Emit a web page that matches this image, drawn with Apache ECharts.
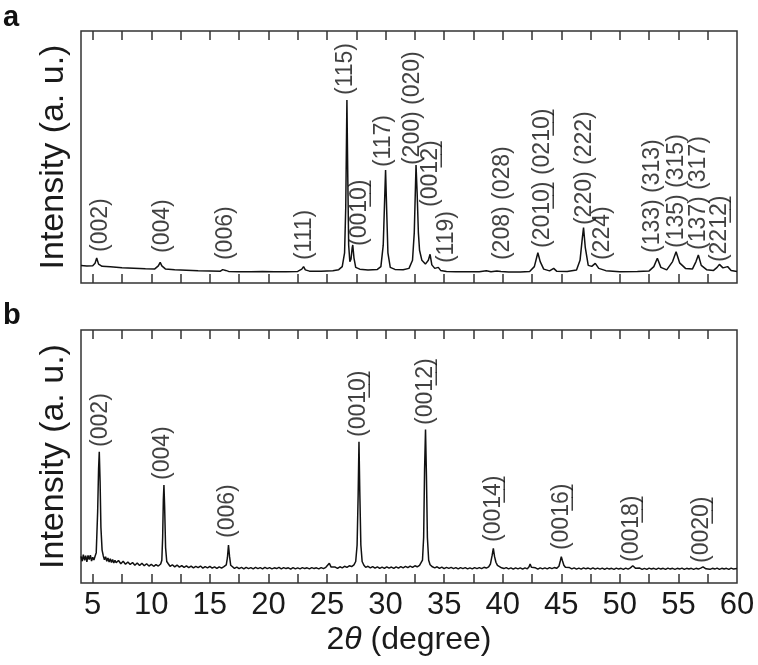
<!DOCTYPE html>
<html>
<head>
<meta charset="utf-8">
<script src="https://cdn.jsdelivr.net/npm/echarts@6/dist/echarts.min.js"></script>
<style>html,body{margin:0;padding:0;background:#fff}#c{width:758px;height:665px}</style>
</head>
<body>
<div id="c"></div>
<script>
// ---------- data ----------
const xMin = 4, xMax = 60;
const xTickLabels = [5, 10, 15, 20, 25, 30, 35, 40, 45, 50, 55, 60];
const xMinorTicks = [5, 7.5, 10, 12.5, 15, 17.5, 20, 22.5, 25, 27.5, 30, 32.5, 35, 37.5, 40, 42.5, 45, 47.5, 50, 52.5, 55, 57.5];

// panel a : powder pattern [2theta, intensity]
const patternA = [
 [4.0,6.9],[4.5,6.7],[5.0,6.8],[5.2,7.8],[5.34,9.9],[5.5,7.5],[5.8,6.6],[6.5,6.4],[7.5,6.1],[8.5,5.9],[9.5,5.7],
 [10.3,5.6],[10.6,6.8],[10.76,8.2],[10.9,6.8],[11.2,5.6],[12,5.3],[13,5.1],[14,4.9],[15,4.8],[15.9,4.7],
 [16.1,5.3],[16.22,5.8],[16.35,5.0],[16.6,4.6],[17.5,4.5],[18.5,4.5],[19.5,4.6],[20.5,4.5],[21.5,4.5],[22.5,4.6],
 [22.85,5.5],[23.0,6.5],[23.15,5.2],[23.5,4.7],[24.5,4.7],[25.5,4.9],[26.0,5.3],[26.3,6.5],[26.5,12],[26.6,30],
 [26.7,72.6],[26.78,40],[26.85,15],[26.95,8.5],[27.05,9.5],[27.15,14],[27.2,15.1],[27.3,10],[27.45,6.2],[27.8,5.5],
 [28.5,5.2],[29.3,5.4],[29.6,6.5],[29.8,15],[29.9,30],[30.0,44.8],[30.1,28],[30.2,12],[30.4,6.2],[30.8,5.4],
 [31.5,5.3],[32.0,5.8],[32.3,9],[32.45,20],[32.6,46.8],[32.7,35],[32.8,20],[32.9,13],[33.1,9],[33.4,7.5],
 [33.65,9],[33.8,11.4],[33.95,7.2],[34.2,5.8],[34.5,6.2],[34.7,5.0],[35.2,4.6],[36,4.5],[37,4.5],[38,4.5],
 [38.6,4.9],[39,4.5],[39.5,4.8],[39.66,5.4],[39.85,4.6],[40.5,4.4],[41.5,4.4],[42.3,4.6],[42.7,6.5],[43.0,12],
 [43.2,8.5],[43.5,5.5],[44.0,4.8],[44.35,5.8],[44.6,4.7],[45.5,4.6],[46.3,5.2],[46.6,9],[46.8,18],[46.9,22],
 [47.05,14],[47.3,7],[47.6,6.6],[47.9,7.8],[48.2,5.8],[48.8,4.9],[50,4.5],[51.5,4.6],[52.5,4.8],[52.9,6.5],
 [53.2,9.8],[53.5,6.2],[54.0,5.2],[54.5,8.5],[54.8,12.4],[55.1,8.0],[55.6,5.8],[56.2,5.6],[56.5,8.5],[56.7,11.1],
 [56.95,7.0],[57.4,5.3],[58.0,5.0],[58.3,6.2],[58.5,7.4],[58.8,6.0],[59.2,6.5],[59.5,5.0],[60,4.6]
];

// panel b : oriented film pattern [2theta, intensity]
const patternB = [
 [4.0,10.5],[4.1,8.6],[4.2,11.2],[4.3,9.0],[4.4,10.8],[4.5,8.4],[4.6,10.9],[4.7,9.3],[4.8,11.0],[4.9,8.7],[5.0,10.2],
 [5.1,9.1],[5.2,10.6],[5.3,12],[5.42,28],[5.5,45],[5.56,51.9],[5.63,40],[5.7,22],[5.8,13],[5.9,10.8],[6.0,9.2],
 [6.1,10.4],[6.2,8.6],[6.3,9.9],[6.4,8.3],[6.5,9.6],[6.6,8.1],[6.7,9.3],[6.8,7.9],[6.9,9.0],[7.0,8.0],
 [7.2,8.9],[7.4,7.6],[7.6,8.6],[7.8,7.4],[8.0,8.3],[8.2,7.3],[8.4,8.1],[8.6,7.0],[8.8,7.9],[9.0,6.9],[9.2,7.8],
 [9.4,6.8],[9.6,7.6],[9.8,6.7],[10.0,7.4],[10.2,6.6],[10.4,7.3],[10.6,6.7],[10.8,7.5],[10.9,9],[10.97,18],
 [11.03,33],[11.08,38.7],[11.14,30],[11.22,14],[11.32,8.5],[11.45,7.6],[11.6,6.6],[11.8,7.2],[12.0,6.4],[12.2,7.1],
 [12.4,6.3],[12.6,6.9],[12.8,6.2],[13.0,6.8],[13.2,6.1],[13.4,6.7],[13.6,6.0],[13.8,6.6],[14.0,6.1],[14.2,6.7],
 [14.4,5.9],[14.6,6.5],[14.8,6.0],[15.0,6.6],[15.2,5.9],[15.4,6.4],[15.6,5.8],[15.8,6.4],[16.0,5.9],[16.2,6.5],
 [16.4,7.2],[16.5,10],[16.59,15],[16.68,10.5],[16.78,7.0],[16.9,6.4],[17.1,5.8],[17.3,6.3],[17.5,5.7],[17.7,6.2],
 [17.9,5.6],[18.1,6.2],[18.3,5.7],[18.5,6.1],[18.7,5.6],[18.9,6.2],[19.1,5.7],[19.3,6.1],[19.5,5.6],[19.7,6.2],
 [19.9,5.7],[20.1,6.1],[20.3,5.6],[20.5,6.0],[20.7,5.7],[20.9,6.2],[21.1,5.6],[21.3,6.1],[21.5,5.7],[21.7,6.0],
 [21.9,5.5],[22.1,6.1],[22.3,5.6],[22.5,6.0],[22.7,5.6],[22.9,6.1],[23.1,5.7],[23.3,6.0],[23.5,5.6],[23.7,6.1],
 [23.9,5.7],[24.1,6.0],[24.3,5.6],[24.5,6.1],[24.7,5.7],[24.9,6.2],[25.05,6.4],[25.2,7.8],[25.35,6.3],[25.5,5.9],
 [25.7,6.3],[25.9,5.8],[26.1,6.4],[26.3,6.0],[26.5,6.6],[26.7,6.2],[26.9,6.8],[27.1,6.5],[27.3,7.2],[27.45,8.5],
 [27.57,15],[27.66,35],[27.73,55.8],[27.8,36],[27.89,15],[28.0,8.5],[28.15,7.0],[28.3,6.2],[28.5,6.6],[28.7,6.0],
 [28.9,6.5],[29.1,5.9],[29.3,6.4],[29.5,5.8],[29.7,6.3],[29.9,5.8],[30.1,6.4],[30.3,5.9],[30.5,6.3],[30.7,5.8],
 [30.9,6.4],[31.1,5.9],[31.3,6.5],[31.5,6.0],[31.7,6.6],[31.9,6.1],[32.1,6.7],[32.3,6.2],[32.5,6.8],[32.7,6.4],
 [32.9,7.0],[33.05,7.6],[33.15,9],[33.25,18],[33.33,45],[33.41,60.7],[33.49,42],[33.57,18],[33.68,9],[33.8,7.2],
 [34.0,6.4],[34.2,6.0],[34.4,6.4],[34.6,5.8],[34.8,6.3],[35.0,5.7],[35.2,6.2],[35.4,5.8],[35.6,6.2],[35.8,5.7],
 [36.0,6.1],[36.2,5.6],[36.4,6.1],[36.6,5.7],[36.8,6.1],[37.0,5.6],[37.2,6.0],[37.4,5.6],[37.6,6.1],[37.8,5.7],
 [38.0,6.1],[38.2,5.7],[38.4,6.2],[38.6,5.9],[38.8,6.4],[38.95,7.5],[39.1,11],[39.2,13.7],[39.3,10.5],[39.42,8.2],
 [39.55,7.0],[39.7,6.4],[39.9,6.0],[40.1,5.7],[40.3,6.1],[40.5,5.6],[40.7,6.0],[40.9,5.5],[41.1,6.0],[41.3,5.6],
 [41.5,6.0],[41.7,5.5],[41.9,6.0],[42.1,5.6],[42.25,6.4],[42.34,7.5],[42.45,6.2],[42.6,5.7],[42.8,6.0],[43.0,5.5],
 [43.2,6.0],[43.4,5.6],[43.6,6.0],[43.8,5.6],[44.0,6.1],[44.2,5.7],[44.4,6.1],[44.6,5.8],[44.8,6.6],[44.92,8.8],
 [45.0,10.4],[45.1,8.8],[45.22,7.0],[45.35,6.2],[45.5,5.9],[45.7,6.1],[45.9,5.6],[46.1,6.0],[46.3,5.5],[46.5,5.9],
 [46.7,5.5],[46.9,6.0],[47.1,5.6],[47.3,5.9],[47.5,5.5],[47.7,6.0],[47.9,5.5],[48.1,5.9],[48.3,5.5],[48.5,5.9],
 [48.7,5.4],[48.9,5.9],[49.1,5.5],[49.3,5.8],[49.5,5.4],[49.7,5.9],[49.9,5.5],[50.1,5.8],[50.3,5.4],[50.5,5.9],
 [50.7,5.5],[50.9,6.0],[51.0,6.5],[51.1,6.8],[51.2,6.4],[51.35,5.8],[51.5,5.5],[51.7,5.9],[51.9,5.4],[52.1,5.8],
 [52.3,5.4],[52.5,5.9],[52.7,5.5],[52.9,5.8],[53.1,5.4],[53.3,5.9],[53.5,5.5],[53.7,5.8],[53.9,5.4],[54.1,5.9],
 [54.3,5.5],[54.5,5.8],[54.7,5.4],[54.9,5.8],[55.1,5.5],[55.3,5.9],[55.5,5.4],[55.7,5.8],[55.9,5.5],[56.1,5.8],
 [56.3,5.4],[56.5,5.8],[56.7,5.5],[56.9,5.9],[57.0,6.2],[57.1,6.4],[57.2,6.1],[57.35,5.6],[57.5,5.8],[57.7,5.4],
 [57.9,5.8],[58.1,5.5],[58.3,5.9],[58.5,5.4],[58.7,5.8],[58.9,5.5],[59.1,5.8],[59.3,5.4],[59.5,5.9],[59.7,5.5],[60.0,5.7]
];

// reflection labels (U+0332 = underline of multi-digit index)
const U = '\u0332';
const labelTextA = ['(002)','(004)','(006)','(111)','(115)','(001'+U+'0'+U+')','(117)','(200) (020)',
  '(001'+U+'2'+U+')','(119)','(208) (028)','(201'+U+'0'+U+') (021'+U+'0'+U+')','(220) (222)','(224)',
  '(133) (313)','(135) (315)','(137) (317)','(221'+U+'2'+U+')'];
const labelAngleA = [5.71, 11.0, 16.38, 23.12, 26.62, 27.82, 29.87, 32.34, 33.88, 35.24, 40.02, 43.44, 47.02, 48.56, 52.83, 54.88, 56.76, 58.55];
const labelBaseA  = [12.3, 11.9, 9.1, 9.1, 74.6, 14.7, 46.0, 46.8, 30.2, 7.9, 9.1, 13.9, 23.0, 9.1, 11.9, 13.9, 13.1, 8.3];

const labelTextB = ['(002)','(004)','(006)','(001'+U+'0'+U+')','(001'+U+'2'+U+')','(001'+U+'4'+U+')',
  '(001'+U+'6'+U+')','(001'+U+'8'+U+')','(002'+U+'0'+U+')'];
const labelAngleB = [5.71, 11.0, 16.55, 27.73, 33.45, 39.26, 45.06, 51.04, 57.02];
const labelBaseB  = [53.8, 40.7, 17.8, 57.7, 62.5, 16.2, 13.0, 8.3, 7.9];

const panelLetters = ['a', 'b'];
const yTitle = 'Intensity (a. u.)';

// ---------- chart ----------
const FONT = '"Liberation Sans", Arial, Helvetica, sans-serif';
const INK = '#1a1a1a';
const AX = '#333';

function xAx(gridIndex, position, showLabels) {
  return {
    type: 'value', gridIndex, position, min: xMin, max: xMax,
    axisLine: { show: false },
    splitLine: { show: false },
    axisTick: { show: true, inside: true, length: 9, customValues: xMinorTicks, lineStyle: { color: AX, width: 1.5 } },
    axisLabel: showLabels ? { show: true, customValues: xTickLabels, margin: 7, fontSize: 31, color: INK, fontFamily: FONT } : { show: false },
    name: showLabels ? '2{i|θ} (degree)' : '',
    nameLocation: 'middle', nameGap: 41,
    nameTextStyle: { fontSize: 32, color: INK, fontFamily: FONT,
      rich: { i: { fontStyle: 'italic', fontSize: 32, color: INK, fontFamily: FONT } } }
  };
}
function yAx(gridIndex) {
  return {
    type: 'value', gridIndex, min: 0, max: 100,
    axisLine: { show: false }, axisTick: { show: false }, axisLabel: { show: false }, splitLine: { show: false },
    name: yTitle, nameLocation: 'middle', nameRotate: 90, nameGap: 10,
    nameTextStyle: { fontSize: 34, color: INK, fontFamily: FONT }
  };
}
function lineSeries(idx, data) {
  return { type: 'line', xAxisIndex: idx * 2, yAxisIndex: idx, data, showSymbol: false, symbol: 'none',
    lineStyle: { color: '#111', width: 1.5 }, silent: true };
}
function labelSeries(idx, texts, angles, bases) {
  return { type: 'scatter', xAxisIndex: idx * 2, yAxisIndex: idx, symbolSize: 0, silent: true,
    data: angles.map((a, i) => ({ value: [a, bases[i]], name: texts[i] })),
    label: { show: true, position: 'inside', rotate: 90, align: 'left', verticalAlign: 'middle',
      formatter: p => p.name, fontSize: 23, color: '#111', fontFamily: FONT } };
}

const chart = echarts.init(document.getElementById('c'), null, { renderer: 'canvas' });
chart.setOption({
  animation: false,
  backgroundColor: '#fff',
  grid: [
    { left: 81, right: 21, top: 31, height: 252, show: true, borderColor: AX, borderWidth: 1.5, backgroundColor: 'transparent' },
    { left: 81, right: 21, top: 330, height: 253, show: true, borderColor: AX, borderWidth: 1.5, backgroundColor: 'transparent' }
  ],
  xAxis: [xAx(0, 'bottom', false), xAx(0, 'top', false), xAx(1, 'bottom', true), xAx(1, 'top', false)],
  yAxis: [yAx(0), yAx(1)],
  graphic: [
    { type: 'text', left: 3, top: 3, style: { text: panelLetters[0], font: 'bold 29px ' + FONT, fill: '#111' } },
    { type: 'text', left: 3, top: 301, style: { text: panelLetters[1], font: 'bold 29px ' + FONT, fill: '#111' } }
  ],
  series: [
    lineSeries(0, patternA), lineSeries(1, patternB),
    labelSeries(0, labelTextA, labelAngleA, labelBaseA),
    labelSeries(1, labelTextB, labelAngleB, labelBaseB)
  ]
});
</script>
</body>
</html>
